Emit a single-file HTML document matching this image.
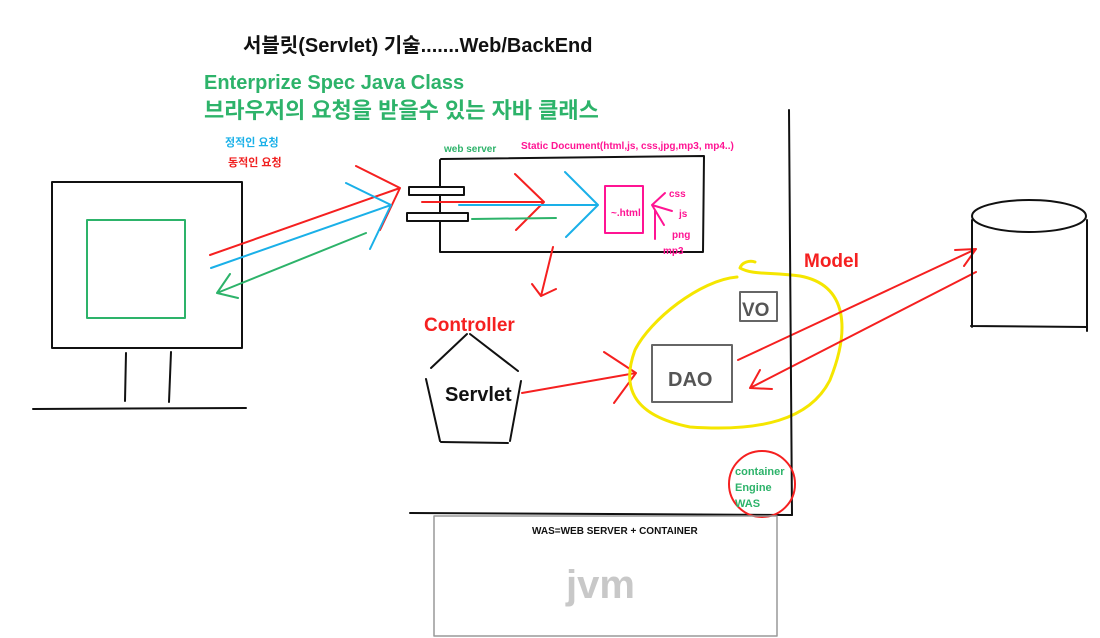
<!DOCTYPE html>
<html><head><meta charset="utf-8"><style>
html,body{margin:0;padding:0;background:#fff;}
svg{display:block;}
text{font-family:"Liberation Sans","Noto Sans CJK KR",sans-serif;font-weight:bold;}
</style></head><body>
<svg width="1100" height="638" viewBox="0 0 1100 638" xmlns="http://www.w3.org/2000/svg">
<g fill="none" stroke-linecap="round" stroke-linejoin="round">
<!-- titles -->
<text x="243" y="52" font-size="20" fill="#111" stroke="none">서블릿(Servlet) 기술.......Web/BackEnd</text>
<text x="204" y="89" font-size="20" fill="#2db36a" stroke="none">Enterprize Spec Java Class</text>
<text x="204" y="118" font-size="22" fill="#2db36a" stroke="none">브라우저의 요청을 받을수 있는 자바 클래스</text>
<text x="225" y="146" font-size="11" fill="#1ab0e8" stroke="none">정적인 요청</text>
<text x="228" y="166" font-size="11" fill="#f02020" stroke="none">동적인 요청</text>

<!-- monitor -->
<rect x="52" y="182" width="190" height="166" stroke="#111" stroke-width="2"/>
<rect x="87" y="220" width="98" height="98" stroke="#2db36a" stroke-width="2"/>
<line x1="126" y1="353" x2="125" y2="401" stroke="#111" stroke-width="2"/>
<line x1="171" y1="352" x2="169" y2="402" stroke="#111" stroke-width="2"/>
<line x1="33" y1="409" x2="246" y2="408" stroke="#111" stroke-width="2"/>

<!-- request arrows -->
<path d="M210 255 L400 188 M356 166 L400 188 L380 230" stroke="#f52020" stroke-width="2"/>
<path d="M211 268 L391 205 M346 183 L391 205 L370 249" stroke="#1ab0e8" stroke-width="2"/>
<path d="M366 233 L217 293 M230 274 L217 293 L238 298" stroke="#2db36a" stroke-width="2"/>

<!-- web server box -->
<path d="M441 159 L704 156 L703 252 L440 252 L440 160" stroke="#111" stroke-width="2"/>
<rect x="409" y="187" width="55" height="8" stroke="#111" stroke-width="2" fill="#fff"/>
<rect x="407" y="213" width="61" height="8" stroke="#111" stroke-width="2" fill="#fff"/>
<text x="444" y="152" font-size="10" fill="#2db36a" stroke="none">web server</text>
<text x="521" y="149" font-size="10" fill="#ff1493" stroke="none">Static Document(html,js, css,jpg,mp3, mp4..)</text>
<path d="M422 202 L544 202 M515 174 L544 202 L516 230" stroke="#f52020" stroke-width="2"/>
<path d="M459 205 L598 205 M565 172 L598 205 L566 237" stroke="#1ab0e8" stroke-width="2"/>
<line x1="472" y1="219" x2="556" y2="218" stroke="#2db36a" stroke-width="2"/>
<rect x="605" y="186" width="38" height="47" stroke="#ff1493" stroke-width="2"/>
<text x="611" y="216" font-size="10" fill="#ff1493" stroke="none" font-weight="normal">~.html</text>
<path d="M665 193 L652 205 L672 211 M652 205 L664 225 M655 210 L655 239" stroke="#ff1493" stroke-width="2"/>
<text x="669" y="197" font-size="10" fill="#ff1493" stroke="none">css</text>
<text x="679" y="217" font-size="10" fill="#ff1493" stroke="none">js</text>
<text x="672" y="238" font-size="10" fill="#ff1493" stroke="none">png</text>
<text x="663" y="254" font-size="10" fill="#ff1493" stroke="none">mp3</text>
<path d="M553 247 L541 296 M532 284 L541 296 L556 289" stroke="#f52020" stroke-width="2"/>

<!-- controller -->
<text x="424" y="331" font-size="19" fill="#f52020" stroke="none">Controller</text>
<path d="M470 334 L518 371 M467 334 L431 368 M426 379 L440 441 M441 442 L508 443 M510 441 L521 381" stroke="#111" stroke-width="2"/>
<text x="445" y="401" font-size="20" fill="#111" stroke="none">Servlet</text>
<path d="M522 393 L636 373 M604 352 L636 373 L614 403" stroke="#f52020" stroke-width="2"/>

<!-- model -->
<path d="M737 277 C700 280 650 320 635 350 C622 385 630 415 690 427 C760 432 810 420 830 380 C850 330 848 285 800 276 C770 272 752 275 740 268 C742 262 750 260 755 262" stroke="#f5e600" stroke-width="3"/>
<rect x="652" y="345" width="80" height="57" stroke="#666" stroke-width="2"/>
<text x="668" y="386" font-size="20" fill="#555" stroke="none">DAO</text>
<rect x="740" y="292" width="37" height="29" stroke="#666" stroke-width="2"/>
<text x="742" y="316" font-size="19" fill="#555" stroke="none">VO</text>
<text x="804" y="267" font-size="19" fill="#f52020" stroke="none">Model</text>
<path d="M738 360 L976 249 M955 250 L976 249 L964 266" stroke="#f52020" stroke-width="2"/>
<path d="M976 272 L750 388 M760 370 L750 388 L772 389" stroke="#f52020" stroke-width="2"/>

<!-- was boundary -->
<line x1="789" y1="110" x2="792" y2="515" stroke="#111" stroke-width="2"/>
<line x1="410" y1="513" x2="792" y2="515" stroke="#111" stroke-width="2"/>
<circle cx="762" cy="484" r="33" stroke="#f52020" stroke-width="2"/>
<text x="735" y="475" font-size="11" fill="#2db36a" stroke="none">container</text>
<text x="735" y="491" font-size="11" fill="#2db36a" stroke="none">Engine</text>
<text x="735" y="507" font-size="11" fill="#2db36a" stroke="none">WAS</text>

<!-- jvm -->
<rect x="434" y="516" width="343" height="120" stroke="#999" stroke-width="1.5"/>
<text x="532" y="534" font-size="10" fill="#111" stroke="none" font-weight="normal">WAS=WEB SERVER + CONTAINER</text>
<text x="566" y="598" font-size="40" fill="#c8c8c8" stroke="none">jvm</text>

<!-- DB -->
<path d="M972 220 L972 327 M1087 220 L1087 331 M971 326 L1087 327" stroke="#111" stroke-width="2"/>
<ellipse cx="1029" cy="216" rx="57" ry="16" stroke="#111" stroke-width="2" fill="#fff"/>
</g>
</svg>
</body></html>
